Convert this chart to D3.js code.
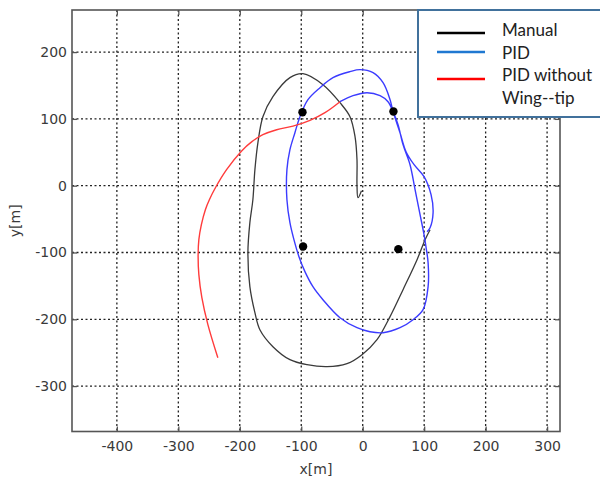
<!DOCTYPE html>
<html>
<head>
<meta charset="utf-8">
<script src="https://cdn.jsdelivr.net/npm/d3@7"></script>
<style>
  html, body { margin: 0; padding: 0; background: #fff; }
  svg { display: block; }
</style>
</head>
<body>
<svg id="chart" width="600" height="483"></svg>
<script>
// ---- Data ----
const xTicks = [-400, -300, -200, -100, 0, 100, 200, 300];
const yTicks = [-300, -200, -100, 0, 100, 200];
const xDomain = [-473, 321];
const yDomain = [-368, 263];

const seriesNames = ["Manual", "PID", "PID without", "Wing--tip"];

const manualPts = [[-2,-7.5],[-7.7,-18],[-9.3,1.5],[-9.3,38.9],[-12.5,73.4],[-20.7,103.3],[-37,124.3],[-64.7,151.2],[-97.2,167.7],[-118.4,161.7],[-146.1,133.2],[-162.4,103.3],[-170.5,64.4],[-175.4,24],[-178.7,-21],[-183.6,-55.4],[-186.8,-100.3],[-183.6,-151.2],[-175.4,-190.1],[-167.3,-215.6],[-146.1,-241],[-118.4,-260.5],[-90.7,-268],[-58.1,-271],[-25.6,-266.5],[-1.1,-253],[23.3,-230.5],[44.5,-196],[65.6,-155.7],[88.4,-110.8],[101.5,-80.8],[109.6,-65.9]];

const pidPts = [[104.7,-68.9],[109.6,-62.9],[114.5,-40.4],[111.2,-13.5],[99.8,13.5],[83.6,31.4],[70.5,50.9],[60.7,79.3],[49.8,109.7],[44.5,128.7],[33.1,154.2],[16.8,169.2],[-4.4,173.7],[-20.7,170.7],[-48.4,161.7],[-69.5,146.7],[-89.1,128.7],[-102.1,103.3],[-110.3,79.3],[-118.4,53.9],[-123.3,24],[-123.3,-21],[-118.4,-55.4],[-111.9,-80.8],[-103.7,-106.3],[-94,-128.7],[-81,-151.2],[-64.7,-170.7],[-37,-197.6],[-9.3,-212.6],[11.9,-218.6],[33.1,-220.1],[60.7,-212.6],[81.9,-200.6],[98.2,-185.6],[106.4,-151.2],[106.4,-115.3],[103.5,-95],[99.8,-73.4],[93.3,-43.4],[85.2,-6],[77,31.4],[65.6,61.4],[57.5,91.3],[49.8,109.7],[41.2,125.7],[28.2,134.7],[7,139.2],[-15.8,134.7],[-37,125.7]];

const pidNoWingPts = [[-37,125.7],[-61.4,109.3],[-85.8,97.8],[-113.5,89.1],[-140,83.8],[-162.4,76.3],[-180.3,65.9],[-197,52],[-221.5,24],[-239,-2],[-249.5,-21],[-256,-35.9],[-262.5,-58.4],[-266.6,-80.8],[-267.8,-103.3],[-266.6,-133.2],[-261.7,-167.7],[-251.9,-208],[-235.7,-257.5]];

const markerX = [-98, 50, -97, 58];
const markerY = [110, 111, -91, -95];

// ---- Layout ----
const svg = d3.select("#chart");
const L = 72, R = 560, T = 10, B = 431.5;
const x = d3.scaleLinear().domain(xDomain).range([L, R]);
const y = d3.scaleLinear().domain(yDomain).range([B, T]);

// grid
const grid = svg.append("g");
grid.selectAll("line.gx").data(xTicks).join("line")
  .attr("x1", d => x(d)).attr("x2", d => x(d)).attr("y1", T).attr("y2", B)
  .attr("stroke", "#222").attr("stroke-width", 1.3).attr("stroke-dasharray", "2,2.5");
grid.selectAll("line.gy").data(yTicks).join("line")
  .attr("y1", d => y(d)).attr("y2", d => y(d)).attr("x1", L).attr("x2", R)
  .attr("stroke", "#222").attr("stroke-width", 1.3).attr("stroke-dasharray", "2,2.5");

// axes (ticks inward, labels outside)
const fontTick = "'DejaVu Sans', sans-serif";
const fmt = d => String(d);
const axB = svg.append("g").attr("transform", `translate(0,${B})`)
  .call(d3.axisBottom(x).tickValues(xTicks).tickSize(-5).tickPadding(10).tickFormat(fmt));
const axT = svg.append("g").attr("transform", `translate(0,${T})`)
  .call(d3.axisTop(x).tickValues(xTicks).tickSize(-5).tickFormat(""));
const axL = svg.append("g").attr("transform", `translate(${L},0)`)
  .call(d3.axisLeft(y).tickValues(yTicks).tickSize(-5).tickPadding(5).tickFormat(fmt));
const axR = svg.append("g").attr("transform", `translate(${R},0)`)
  .call(d3.axisRight(y).tickValues(yTicks).tickSize(-5).tickFormat(""));
[axB, axT, axL, axR].forEach(a => {
  a.select(".domain").remove();
  a.selectAll(".tick line").attr("stroke", "#555").attr("stroke-width", 1.3);
  a.selectAll("text").attr("font-family", fontTick).attr("font-size", 14).attr("fill", "#3a3a3a");
});

// frame
svg.append("rect").attr("x", L).attr("y", T).attr("width", R - L).attr("height", B - T)
  .attr("fill", "none").attr("stroke", "#555").attr("stroke-width", 1.6);

// lines
const line = d3.line().x(d => x(d[0])).y(d => y(d[1])).curve(d3.curveCatmullRom.alpha(0.5));
svg.append("path").datum(manualPts).attr("d", line)
  .attr("fill", "none").attr("stroke", "#3a3a3a").attr("stroke-width", 1.3);
svg.append("path").datum(pidPts).attr("d", line)
  .attr("fill", "none").attr("stroke", "#3b3bff").attr("stroke-width", 1.4);
svg.append("path").datum(pidNoWingPts).attr("d", line)
  .attr("fill", "none").attr("stroke", "#ff3b3b").attr("stroke-width", 1.4);

// markers
svg.selectAll("circle.m").data(markerX).join("circle")
  .attr("cx", d => x(d)).attr("cy", (d, i) => y(markerY[i])).attr("r", 4.2).attr("fill", "#000");

// axis titles
svg.append("text").attr("x", (L + R) / 2).attr("y", 474).attr("text-anchor", "middle")
  .attr("font-family", fontTick).attr("font-size", 14).attr("fill", "#3a3a3a").text("x[m]");
svg.append("text").attr("transform", `translate(20,${(T + B) / 2}) rotate(-90)`).attr("text-anchor", "middle")
  .attr("font-family", fontTick).attr("font-size", 14).attr("fill", "#3a3a3a").text("y[m]");

// legend
const lg = svg.append("g");
lg.append("rect").attr("x", 418).attr("y", 10).attr("width", 200).attr("height", 107)
  .attr("fill", "#fff").attr("stroke", "#41719c").attr("stroke-width", 2);
const legColors = ["#000000", "#1f78d1", "#ff0000"];
const legLineY = [33, 52, 79];
lg.selectAll("line.lg").data(legColors).join("line")
  .attr("x1", 437).attr("x2", 485).attr("y1", (d, i) => legLineY[i]).attr("y2", (d, i) => legLineY[i])
  .attr("stroke", d => d).attr("stroke-width", 2.5);
const legTextY = [36, 58.5, 81, 103.5];
lg.selectAll("text.lg").data(seriesNames).join("text")
  .attr("x", 502).attr("y", (d, i) => legTextY[i])
  .attr("font-family", "Lato, 'Open Sans', sans-serif").attr("font-size", 17).attr("fill", "#222")
  .text(d => d);
</script>
</body>
</html>
